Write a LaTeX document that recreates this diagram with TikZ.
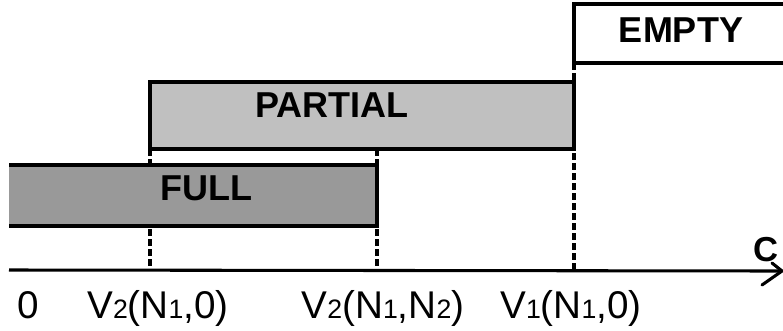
\documentclass[tikz,border=0pt]{standalone}
\usepackage{fontspec}
\setmainfont{Liberation Sans}
\newcommand{\lowsub}[1]{{\fontsize{20}{22}\selectfont #1}}
\begin{document}
\begin{tikzpicture}[x=0.75pt,y=-0.75pt,
  boxline/.style={line width=2.3pt},
  guide/.style={line width=2.4pt,dash pattern=on 5pt off 2.5pt},
  boxlabel/.style={font=\fontsize{27}{30}\selectfont\bfseries},
  ticklabel/.style={font=\fontsize{29}{32}\selectfont, anchor=base}]
\useasboundingbox (0,0) rectangle (783,330);
% guides
\draw[guide] (150,149) -- (150,270);
\draw[guide] (377,149) -- (377,270);
\draw[guide] (574,63) -- (574,270);
% FULL box
\fill[fill={rgb,255:red,153;green,153;blue,153}] (9,165) rectangle (377,226);
\draw[boxline] (9,165) -- (377,165) -- (377,226) -- (9,226);
% PARTIAL box
\draw[boxline, fill={rgb,255:red,192;green,192;blue,192}] (150,82) rectangle (574,149);
% EMPTY box
\fill[white] (574,4) rectangle (783,63);
\draw[boxline] (783,4) -- (574,4) -- (574,63) -- (783,63);
% axis
\coordinate (axs) at (9,270);
\coordinate (axe) at (782,271);
\draw[line width=2.3pt] (axs) -- (axe);
\draw[line width=2.3pt, line cap=round] (762,285) -- (axe) -- (772,263);
\node[font=\fontsize{26}{28}\selectfont\bfseries] (C) at (766,250) {C};
% box labels
\node[boxlabel] (full) at (206,188) {FULL};
\node[boxlabel] (partial) at (332,105) {PARTIAL};
\node[boxlabel] (empty) at (681,30) {EMPTY};
% tick labels
\node[ticklabel] (t0) at (28,318) {0};
\node[ticklabel] (t1) at (158,318) {V\lowsub{2}(N\lowsub{1},0)};
\node[ticklabel] (t2) at (383,318) {V\lowsub{2}(N\lowsub{1},N\lowsub{2})};
\node[ticklabel] (t3) at (571,318) {V\lowsub{1}(N\lowsub{1},0)};
\end{tikzpicture}
\end{document}
